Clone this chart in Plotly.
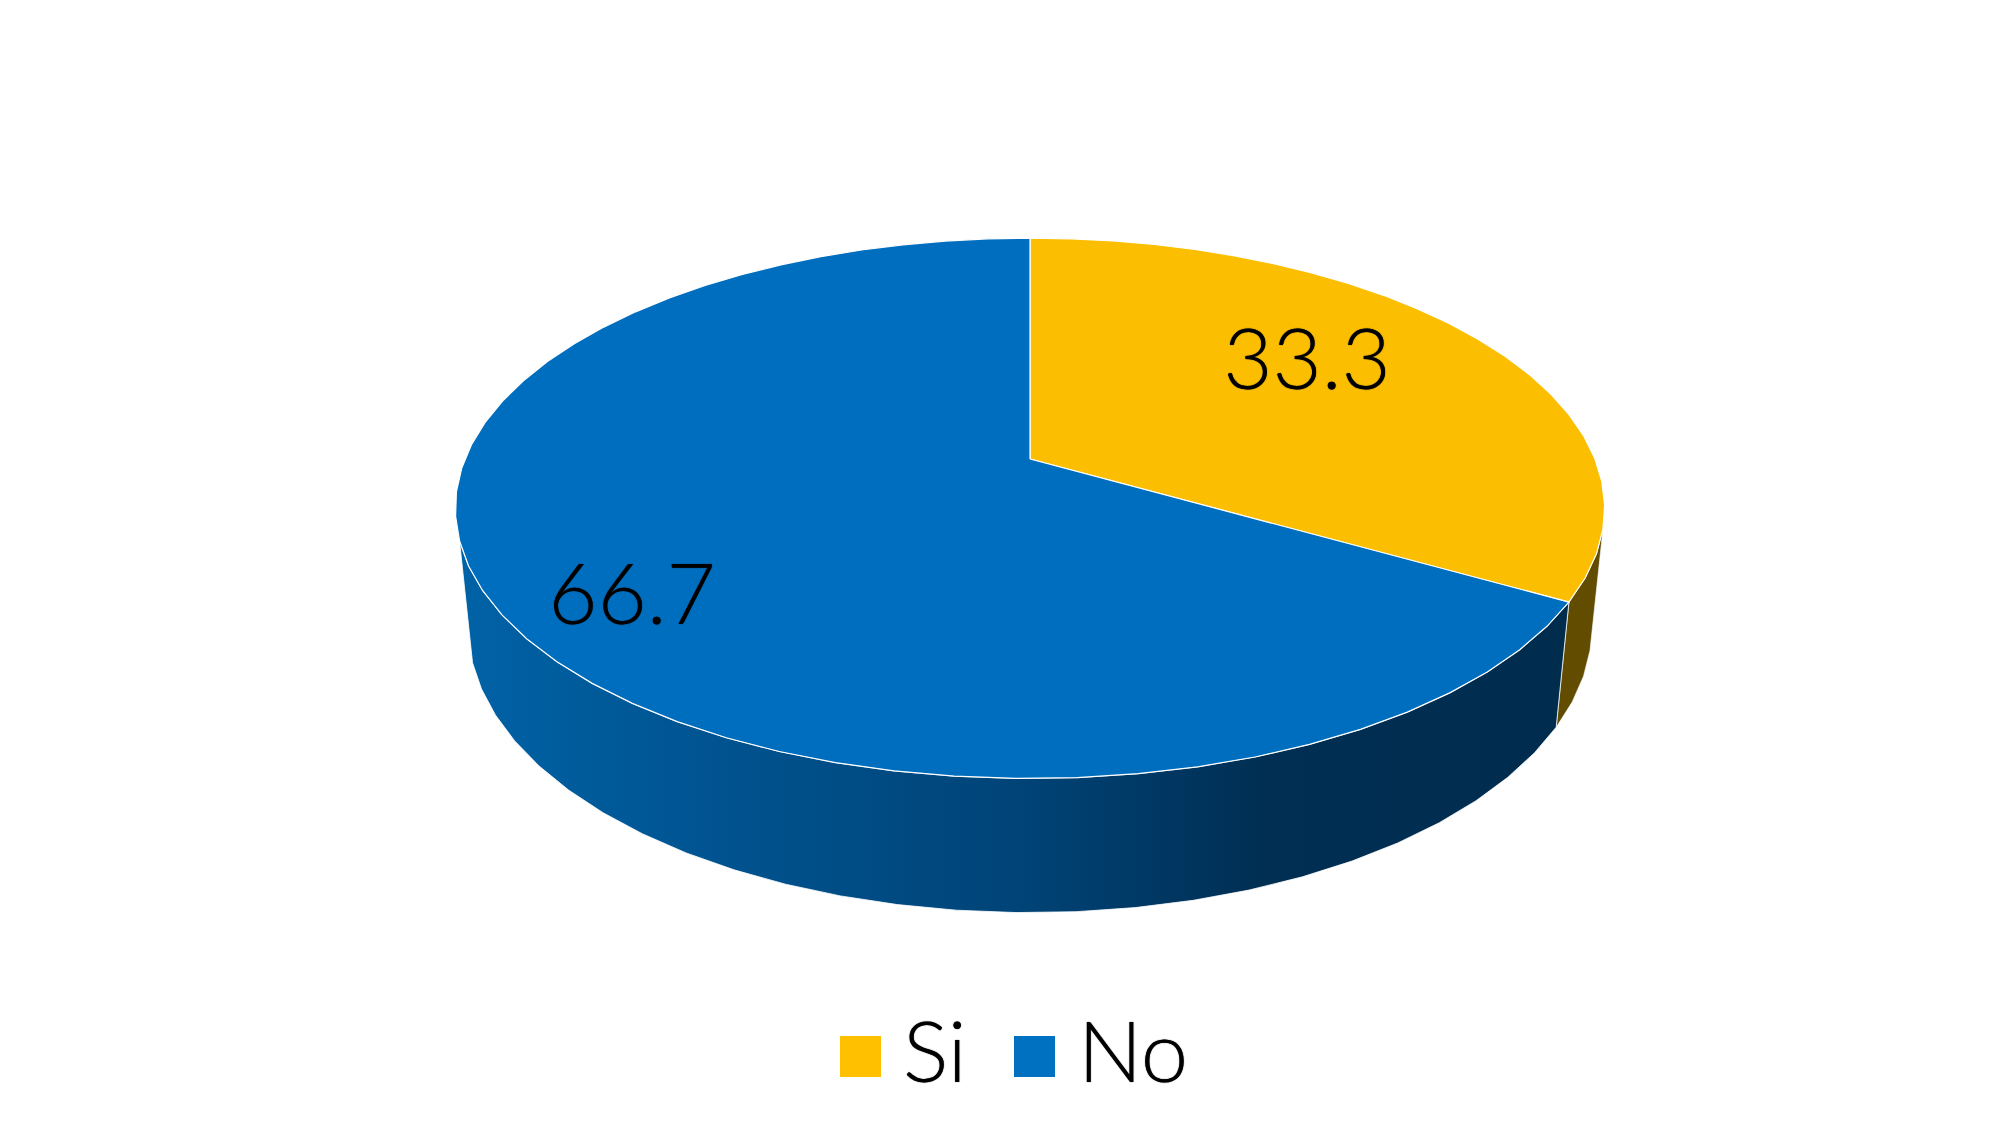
import numpy as np
import plotly.graph_objects as go

categories = ["Si", "No"]
values = [33.3, 66.7]
facets = [24, 47]
top_colors = ["#FBBE00", "#006EBF"]
legend_colors = ["#FFC000", "#0070C0"]
side_color_si = "#614C00"
side_scale_no = [[0, "#0062A6"], [0.25, "#00528E"], [0.5, "#004478"], [0.72, "#002F54"], [1, "#002C4E"]]

CX, CY, A, C, P, DH, RH = 1030, 459, 565, 261.2, 0.1826, 119.6, 0.022


def project(deg, z=0):
    t = np.radians(deg)
    X, Y = np.sin(t), np.cos(t)
    w = 1 + P * Y + RH * z
    return CX + A * X / w, CY - (C * Y - DH * z) / w


total = sum(values)
spans = [360 * v / total for v in values]
starts = [0, spans[0]]
arcs = [np.linspace(s, s + sp, n + 1) for s, sp, n in zip(starts, spans, facets)]

fig = go.Figure()


def side(d, **kw):
    tx, ty = project(d, 0)
    bx, by = project(d[::-1], 1)
    fig.add_trace(go.Scatter(x=np.r_[tx, bx, tx[0]], y=np.r_[ty, by, ty[0]], mode="lines",
                             fill="toself", hoverinfo="skip", showlegend=False, **kw))


side(arcs[0][21:], fillcolor=side_color_si, line=dict(color="#FFFFFF", width=0.6))
side(arcs[1][:27], fillgradient=dict(type="horizontal", colorscale=side_scale_no),
     line=dict(color="#FFFFFF", width=0.8))

for cat, d, col in zip(categories, arcs, top_colors):
    x, y = project(d)
    fig.add_trace(go.Scatter(x=np.r_[CX, x, CX], y=np.r_[CY, y, CY], mode="lines", fill="toself",
                             fillcolor=col, line=dict(color="#FFFFFF", width=1.2),
                             name=cat, showlegend=False, hoverinfo="skip"))

FONT = dict(family="Lato", size=85, color="#000000", weight=300, shadow="0 0 1px #000000")
label_x = [1307, 632]
label_y = [368, 603]
for v, lx, ly in zip(values, label_x, label_y):
    fig.add_trace(go.Scatter(x=[lx], y=[ly], mode="text", text=[f"{v:.1f}"], textposition="middle center",
                             textfont=FONT, showlegend=False, hoverinfo="skip"))

legend_swatch_x = [860.5, 1034.5]
legend_text_x = [903, 1078]
for cat, col, sx, tx in zip(categories, legend_colors, legend_swatch_x, legend_text_x):
    fig.add_trace(go.Scatter(x=[sx], y=[1056.5], mode="markers", showlegend=False, hoverinfo="skip",
                             marker=dict(symbol="square", size=41, color=col, line=dict(width=0))))
    fig.add_trace(go.Scatter(x=[tx], y=[1061], mode="text", text=[cat], textposition="middle right",
                             textfont=FONT, showlegend=False, hoverinfo="skip"))

fig.update_layout(
    width=2000, height=1125, margin=dict(l=0, r=0, t=0, b=0), autosize=False,
    paper_bgcolor="#FFFFFF", plot_bgcolor="#FFFFFF", showlegend=False,
    xaxis=dict(range=[0, 2000], visible=False, fixedrange=True),
    yaxis=dict(range=[1125, 0], visible=False, fixedrange=True),
)
fig.write_html("out.html", post_script="document.body.style.margin='0';", config={"displayModeBar": False})
